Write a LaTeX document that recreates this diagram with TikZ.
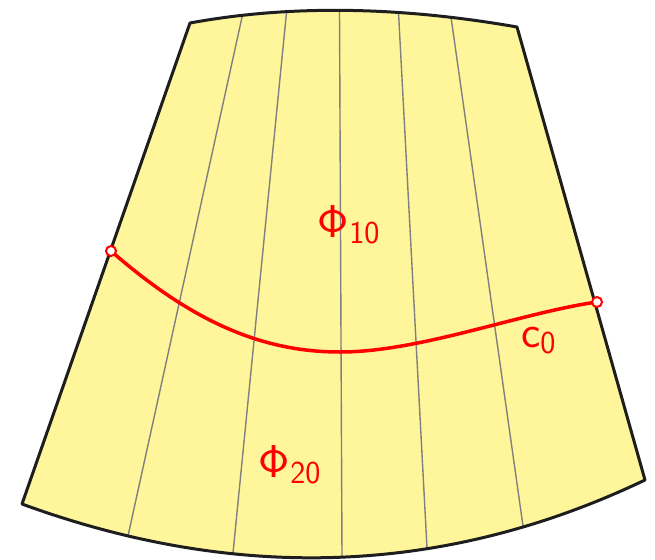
\RequirePackage{fix-cm}
\documentclass[tikz,border=0pt]{standalone}
\definecolor{fillyel}{RGB}{255,245,155}
\definecolor{edge}{RGB}{30,30,30}
\definecolor{fan}{RGB}{128,128,128}
\newcommand{\cmssbig}{\usefont{OT1}{cmss}{m}{n}\fontsize{46}{50}\selectfont}
\newcommand{\cmsssub}[1]{\raisebox{-6.8pt}{\usefont{OT1}{cmss}{m}{n}\fontsize{32}{34}\selectfont #1}}
\begin{document}
\begin{tikzpicture}[x=1pt,y=-1pt,
  outline/.style={draw=edge,line width=3pt,line join=round},
  fanline/.style={draw=fan,line width=1.4pt},
  curve/.style={draw=red,line width=3.5pt},
  endpt/.style={circle,draw=red,fill=white,line width=2pt,minimum size=10pt,inner sep=0pt},
  lab/.style={text=red,inner sep=0pt}]
\useasboundingbox (0,0) rectangle (655,559);
% sector
\path[fill=fillyel] (190,23) .. controls (288,5) and (397,6) .. (517,27)
  -- (645,480) .. controls (446,575) and (238,583) .. (22,504) -- cycle;
% fan lines
\draw[fanline] (242.5,15) -- (128,536);
\draw[fanline] (286.5,12.5) -- (233,553);
\draw[fanline] (339.5,11) -- (342,557);
\draw[fanline] (398.5,12.5) -- (427,548);
\draw[fanline] (451,17) -- (523,526);
% outline
\draw[outline] (190,23) .. controls (288,5) and (397,6) .. (517,27)
  -- (645,480) .. controls (446,575) and (238,583) .. (22,504) -- cycle;
% curve c0
\coordinate (L) at (111,251);
\coordinate (R) at (597,302);
\draw[curve] (L) .. controls (190,320) and (260,352) .. (340,352)
  .. controls (420,352) and (520,313) .. (R);
\node[endpt] (pl) at (L) {};
\node[endpt] (pr) at (R) {};
% labels
\node[lab,anchor=base west] (phi10) at (317,237) {{\cmssbig\char8}\kern1pt\cmsssub{10}};
\node[lab,anchor=base west] (phi20) at (258,477) {{\cmssbig\char8}\kern1pt\cmsssub{20}};
\node[lab,anchor=base west] (c0) at (521,347) {{\cmssbig c}\cmsssub{0}};
\end{tikzpicture}
\end{document}
